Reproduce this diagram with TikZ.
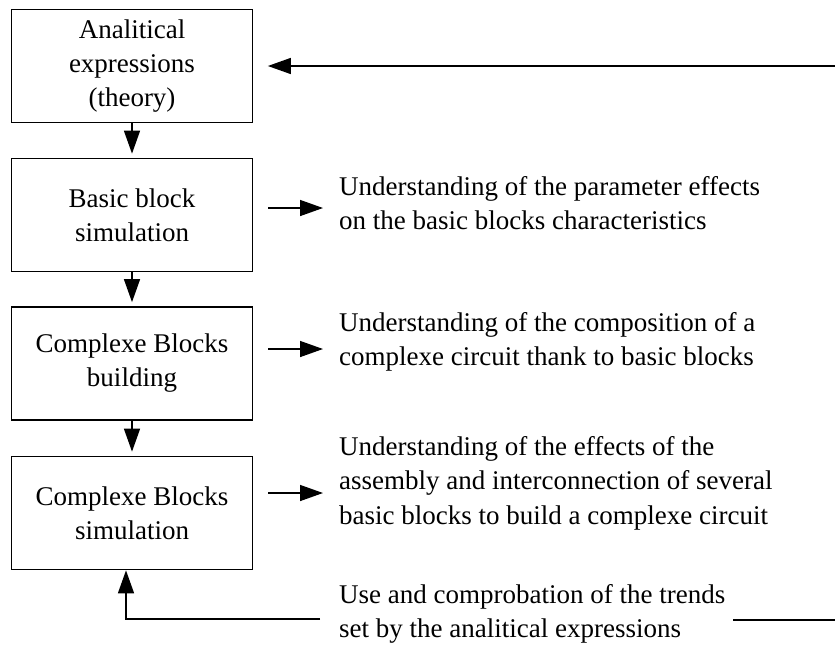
\documentclass[tikz,border=0pt]{standalone}
\usepackage{fontspec}
\setmainfont{Liberation Serif}
\usetikzlibrary{arrows.meta}
\begin{document}
\begin{tikzpicture}[x=1pt,y=-1pt,
 box/.style={draw, line width=1.7pt, minimum width=241pt, minimum height=113pt, align=center, inner sep=0pt, font=\fontsize{27}{34}\selectfont},
 lbl/.style={anchor=west, align=left, inner sep=0pt, font=\fontsize{27}{34.5}\selectfont},
 conn/.style={line width=1.4pt, -{Triangle[length=23pt,width=16pt]}},
 plain/.style={line width=1.4pt}]
\useasboundingbox (0,0) rectangle (835,651);
\node[box] (b1) at (132,66) {Analitical\\expressions\\(theory)};
\node[box] (b2) at (132,215) {Basic block\\simulation};
\node[box] (b3) at (132,363.5) {Complexe Blocks\\building};
\node[box] (b4) at (132,513) {Complexe Blocks\\simulation};
\draw[conn, shorten >=4pt] (b1) -- (b2);
\draw[conn, shorten >=4pt] (b2) -- (b3);
\draw[conn, shorten >=4pt] (b3) -- (b4);
\node[lbl] (t2) at (339,203) {Understanding of the parameter effects\\on the basic blocks characteristics};
\node[lbl] (t3) at (339,342) {Understanding of the composition of a\\complexe circuit thank to basic blocks};
\node[lbl] (t4) at (339,483) {Understanding of the effects of the\\assembly and interconnection of several\\basic blocks to build a complexe circuit};
\node[lbl] (t5) at (339,614) {Use and comprobation of the trends\\set by the analitical expressions};
\draw[conn, shorten <=15pt, shorten >=16pt] (b2.east |- 0,208) -- (t2.west |- 0,208);
\draw[conn, shorten <=15pt, shorten >=16pt] (b3.east |- 0,349) -- (t3.west |- 0,349);
\draw[conn, shorten <=15pt, shorten >=16pt] (b4.east |- 0,493) -- (t4.west |- 0,493);
\coordinate (ft) at (835,66);
\draw[conn, shorten >=14.5pt] (ft) -- (b1.east);
\coordinate (fb) at (835,620);
\coordinate (fb1) at (733,620);
\draw[plain] (fb) -- (fb1);
\coordinate (fl) at (320,619);
\draw[conn] (fl) -- (126,619) -- (b4.south -| 126,0);
\end{tikzpicture}
\end{document}
